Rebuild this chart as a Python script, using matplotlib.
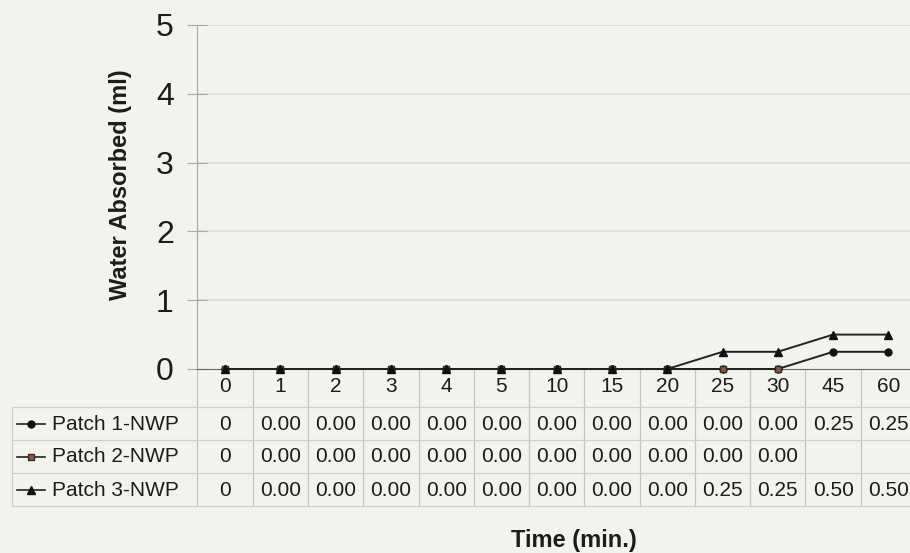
import numpy as np
import matplotlib.pyplot as plt
from matplotlib.transforms import blended_transform_factory

times = ['0', '1', '2', '3', '4', '5', '10', '15', '20', '25', '30', '45', '60']
patch1 = [0, 0, 0, 0, 0, 0, 0, 0, 0, 0, 0, 0.25, 0.25]
patch2 = [0, 0, 0, 0, 0, 0, 0, 0, 0, 0, 0, None, None]
patch3 = [0, 0, 0, 0, 0, 0, 0, 0, 0, 0.25, 0.25, 0.50, 0.50]
names = ['Patch 1-NWP', 'Patch 2-NWP', 'Patch 3-NWP']

plt.rcParams['font.family'] = ['Liberation Sans', 'DejaVu Sans']
bg = '#f3f3ee'
ink = '#1c1c1c'
grey = '#a8a8a4'

W, H = 910, 553
fig = plt.figure(figsize=(W / 100, H / 100), dpi=100, facecolor=bg)

# plot area in pixels (left, top, right, bottom)
x0, y0, x1, y1 = 197.4, 25, 916, 369
ax = fig.add_axes([x0 / W, 1 - y1 / H, (x1 - x0) / W, (y1 - y0) / H])
ax.set_facecolor(bg)

x = np.arange(len(times))
styles = [
    dict(marker='o', ms=5, mfc='#111111', mec='#111111'),
    dict(marker='s', ms=5, mfc='#8a5a48', mec='#3b2a22'),
    dict(marker='^', ms=6, mfc='#111111', mec='#111111'),
]
series = [patch1, patch2, patch3]
for vals, st in zip(series, styles):
    y = np.array([np.nan if v is None else v for v in vals], dtype=float)
    ax.plot(x, y, color='#222222', lw=1.4, clip_on=False, zorder=5, **st)

ax.set_xlim(-0.5, len(times) - 0.5)
ax.set_ylim(0, 5)
ax.set_yticks(range(6))
ax.tick_params(axis='y', direction='inout', length=14, color=grey, labelsize=23,
               labelcolor=ink, pad=10)
ax.set_xticks(x, times)
ax.tick_params(axis='x', length=0, labelsize=15, labelcolor=ink, pad=6)
for yy in range(1, 6):
    ax.axhline(yy, color='#deded8', lw=1.3, zorder=1)
for s in ['top', 'right']:
    ax.spines[s].set_visible(False)
ax.spines['left'].set_color(grey)
ax.spines['bottom'].set_color('#666666')

# data table under the axis
tr = blended_transform_factory(ax.transData, ax.transAxes)
def ya(py):
    return (y1 - py) / (y1 - y0)

row_lines = [407, 440, 473, 506]
row_mid = [424, 457, 490]
for i in range(len(times) + 1):
    ax.plot([i - 0.5, i - 0.5], [0, ya(row_lines[-1])], color='#c4c4c0', lw=0.9,
            transform=tr, clip_on=False)
for py in row_lines:
    fig.add_artist(plt.Line2D([12 / W, 1], [1 - py / H] * 2, color='#cfcfcb', lw=0.9))
fig.add_artist(plt.Line2D([12 / W] * 2, [1 - row_lines[0] / H, 1 - row_lines[-1] / H],
                          color='#cfcfcb', lw=0.9))

for vals, st, name, py in zip(series, styles, names, row_mid):
    fy = 1 - py / H
    fig.add_artist(plt.Line2D([17 / W, 45 / W], [fy, fy], color='#222222', lw=1.2))
    fig.add_artist(plt.Line2D([31 / W], [fy], ls='none', **st))
    fig.text(52 / W, fy, name, fontsize=15, color=ink, ha='left', va='center')
    for i, v in enumerate(vals):
        if v is None:
            continue
        txt = f'{v:g}' if i == 0 else f'{v:.2f}'
        ax.text(i, ya(py), txt, transform=tr, fontsize=15, color=ink,
                ha='center', va='center', clip_on=False)

fig.text(120 / W, 1 - 185 / H, 'Water Absorbed (ml)', rotation=90, fontsize=17,
         fontweight='bold', color=ink, ha='center', va='center')
fig.text(574 / W, 1 - 540 / H, 'Time (min.)', fontsize=17, fontweight='bold',
         color=ink, ha='center', va='center')

fig.savefig('out.png', dpi=100, facecolor=bg)
